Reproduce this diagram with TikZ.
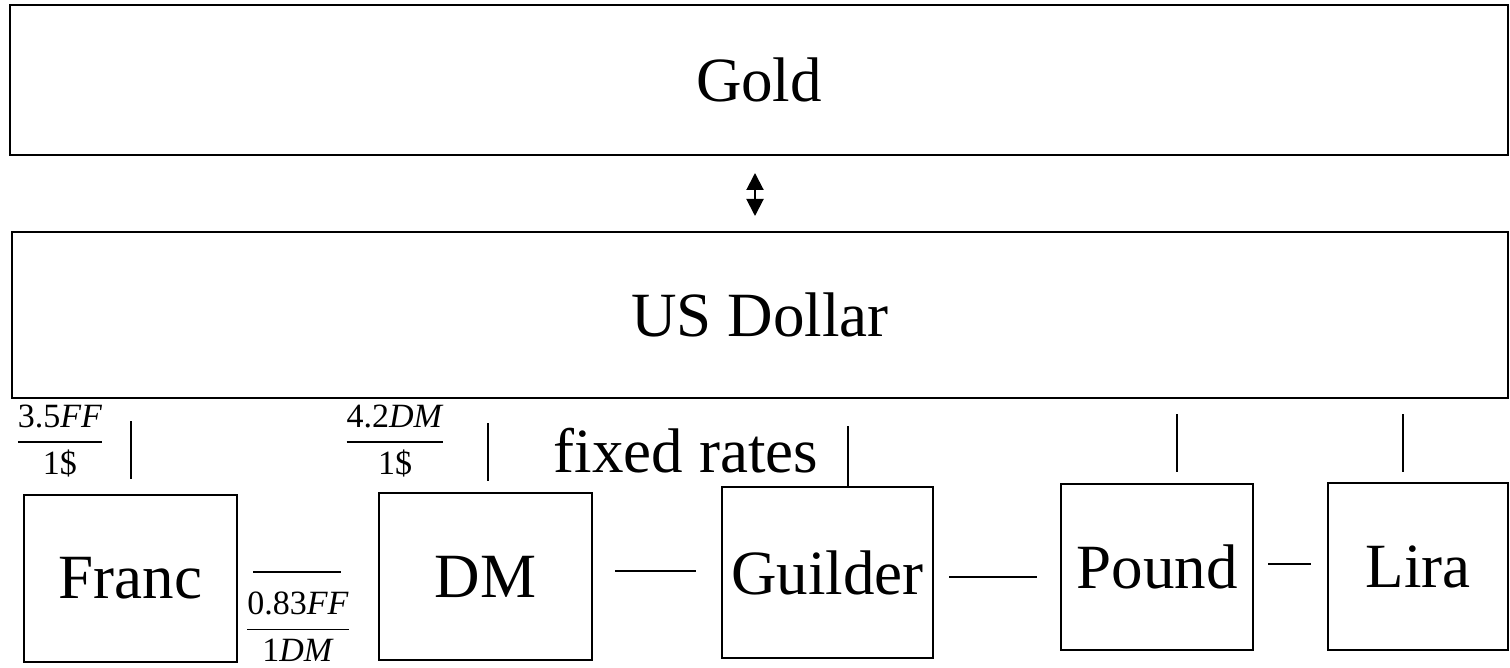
\documentclass[tikz,border=0pt]{standalone}
\usepackage{fontspec}
\usepackage{amsmath}
\setmainfont{Liberation Serif}
\usetikzlibrary{arrows.meta}

\begin{document}
\begin{tikzpicture}[x=0.5pt,y=-0.5pt,line width=1pt,
                    >={Triangle[length=8.5pt,width=8.5pt]},
                    money node/.style={rectangle,draw,inner sep=0pt,font=\fontsize{31.5}{38}\selectfont},
                    rate node/.style={inner sep=0pt,font=\fontsize{17}{20}\selectfont}]

  \useasboundingbox (0,0) rectangle (1510,668);

  \node[money node,minimum width=749pt,minimum height=75pt]    (gold)    at (759,80)      {Gold};
  \node[money node,minimum width=748pt,minimum height=83pt]    (usd)     at (760,315)     {US Dollar};
  \node[money node,minimum width=106.5pt,minimum height=83.5pt] (franc)   at (130.5,578.5) {Franc};
  \node[money node,minimum width=106.5pt,minimum height=83.5pt] (dm)      at (485.5,576.5) {DM};
  \node[money node,minimum width=105.5pt,minimum height=85.5pt] (guilder) at (827.5,572.5) {Guilder};
  \node[money node,minimum width=96pt,minimum height=83pt]      (pound)   at (1157,567)    {Pound};
  \node[money node,minimum width=90pt,minimum height=83.5pt]    (lira)    at (1418,566.5)  {Lira};

  \node[money node,draw=none,anchor=base] (fixed) at (686,472) {fixed rates};

  \node[rate node] (ffusd) at (60,441)  {$\dfrac{\mbox{3.5\textit{FF}}}{\mbox{1\$}}$};
  \node[rate node] (dmusd) at (395,441) {$\dfrac{\mbox{4.2\textit{DM}}}{\mbox{1\$}}$};
  \node[rate node] (ffdm)  at (298,627) {$\dfrac{\mbox{0.83\textit{FF}}}{\mbox{1\textit{DM}}}$};

  % gold <-> dollar, dollar to each currency, then the cross links
  \path
    ([xshift=-2pt]gold.south) edge[<->,shorten <=8.5pt,shorten >=7.5pt] ([xshift=-2pt]gold.south |- usd.north)
    (franc.north |- usd.south) edge[shorten <=11pt,shorten >=7.5pt] (franc.north)
    ([xshift=1.25pt]dm.north |- usd.south) edge[shorten <=12pt,shorten >=5.5pt] ([xshift=1.25pt]dm.north)
    ([xshift=10.25pt]guilder.north |- usd.south) edge[shorten <=13.5pt] ([xshift=10.25pt]guilder.north)
    ([xshift=10pt]pound.north |- usd.south) edge[shorten <=7.5pt,shorten >=5.5pt] ([xshift=10pt]pound.north)
    ([xshift=-7.5pt]lira.north |- usd.south) edge[shorten <=7.5pt,shorten >=5pt] ([xshift=-7.5pt]lira.north)
    ([yshift=3.25pt]franc.east) edge[shorten <=7.5pt,shorten >=18.5pt] ([yshift=3.25pt]franc.east -| dm.west)
    ([yshift=2.75pt]dm.east) edge[shorten <=11pt,shorten >=12.5pt] ([yshift=2.75pt]dm.east -| guilder.west)
    ([yshift=-2.25pt]guilder.east) edge[shorten <=7.5pt,shorten >=11.5pt] ([yshift=-2.25pt]guilder.east -| pound.west)
    ([yshift=1.5pt]pound.east) edge[shorten <=7pt,shorten >=8pt] ([yshift=1.5pt]pound.east -| lira.west);
\end{tikzpicture}
\end{document}
